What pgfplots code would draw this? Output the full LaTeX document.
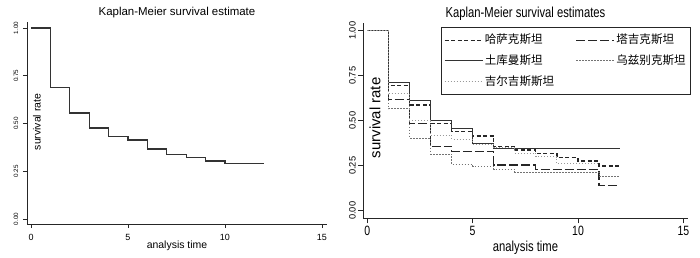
\documentclass[border=0pt]{standalone}
\usepackage{fontspec}
\setmainfont{Liberation Sans}
\newfontfamily\rfont[FakeStretch=0.78]{Liberation Sans}
\newfontfamily\cjk{Noto Sans CJK SC}
\usepackage{pgfplots}
\pgfplotsset{compat=1.18}
\pgfplotsset{every axis title shift=0pt}
\begin{document}
\begin{tikzpicture}
\path[use as bounding box] (0,0) rectangle (700bp,258bp);
% ---------------- left panel ----------------
\begin{axis}[
  at={(27bp,34bp)}, anchor=south west,
  scale only axis, width=300bp, height=202bp,
  xmin=-0.206, xmax=15.26, ymin=-0.026, ymax=1.031,
  axis lines*=left,
  axis line style={line width=1bp, black!85},
  tick align=outside, major tick length=4bp,
  tick style={line width=0.8bp, black!85},
  xtick={0,5,10,15}, ytick={0,0.25,0.5,0.75,1},
  /pgf/number format/assume math mode=true,
  yticklabel={\pgfmathprintnumber[fixed,fixed zerofill,precision=2]{\tick}},
  xticklabel style={font=\fontsize{9}{10}\selectfont, anchor=north, inner sep=0pt, yshift=-6bp},
  yticklabel style={font=\fontsize{6.3}{7}\selectfont, xshift=-4.5bp, rotate=90, anchor=south, inner sep=0pt},
  title={Kaplan-Meier survival estimate},
  title style={font=\fontsize{11.5}{13}\selectfont, at={(axis description cs:0.5,1.045)}, anchor=center, inner sep=0pt},
  xlabel={analysis time},
  xlabel style={font=\fontsize{10.5}{12}\selectfont, at={(axis description cs:0.5,-0.109)}, anchor=center, inner sep=0pt},
  ylabel={survival rate},
  ylabel style={font=\fontsize{10.5}{12}\selectfont, at={(axis description cs:0.033,0.505)}, anchor=center, rotate=0, inner sep=0pt},
  clip=false,
]
\addplot[const plot, line width=1.2bp, black!80] coordinates {
 (0,1) (1,0.689) (2,0.555) (3,0.476) (4,0.433) (5,0.414) (6,0.366)
 (7,0.339) (8,0.323) (9,0.304) (10,0.29) (12,0.29)};
\end{axis}
% ---------------- right panel ----------------
\begin{axis}[
  at={(363bp,39.7bp)}, anchor=south west,
  scale only axis, width=325bp, height=195.3bp,
  xmin=-0.204, xmax=15.22, ymin=-0.042, ymax=1.043,
  axis lines*=left,
  axis line style={line width=1bp, black!85},
  tick align=outside, major tick length=5bp,
  tick style={line width=0.8bp, black!85},
  xtick={0,5,10,15}, ytick={0,0.25,0.5,0.75,1},
  /pgf/number format/assume math mode=true,
  yticklabel={\pgfmathprintnumber[fixed,fixed zerofill,precision=2]{\tick}},
  xticklabel style={font=\rfont\fontsize{13.5}{15}\selectfont, anchor=north, inner sep=0pt, yshift=-3bp},
  yticklabel style={font=\fontsize{9.3}{11}\selectfont, xshift=-2bp, rotate=90, anchor=south, inner sep=0pt},
  title={Kaplan-Meier survival estimates},
  title style={font=\rfont\fontsize{14.5}{16}\selectfont, at={(axis description cs:0.5,1.046)}, anchor=center, inner sep=0pt},
  xlabel={analysis time},
  xlabel style={font=\rfont\fontsize{14.5}{16}\selectfont, at={(axis description cs:0.5,-0.150)}, anchor=center, inner sep=0pt},
  ylabel={survival rate},
  ylabel style={font=\fontsize{15}{17}\selectfont, at={(axis description cs:0.037,0.514)}, anchor=center, rotate=0, inner sep=0pt},
  clip=false,
  legend columns=2,
  legend cell align=left,
  legend image code/.code={\draw[#1] (0bp,0bp) -- (38bp,0bp);},
  legend style={at={(0.239,0.981)}, anchor=north west, draw=black!85, line width=0.9bp,
     font=\cjk\fontsize{11.6}{13}\selectfont, inner xsep=3bp, inner ysep=5bp,
     nodes={inner sep=1.5bp, text height=10bp, text depth=3bp},
     row sep=4.8bp,
     /tikz/every even column/.append style={column sep=20bp}},
]
\addplot[const plot, line width=1.2bp, black!85, dash pattern=on 4bp off 2.5bp] coordinates {
 (0,1) (1,0.696) (2,0.587) (3,0.485) (4,0.439) (5,0.415) (6,0.356)
 (7,0.337) (8,0.317) (9,0.294) (10,0.276) (11,0.248) (12,0.248)};
\addlegendentry{哈萨克斯坦}
\addplot[const plot, line width=1.2bp, black!85, dash pattern=on 9bp off 3bp] coordinates {
 (0,1) (1,0.619) (2,0.483) (3,0.359) (4,0.331) (6,0.254) (8,0.23) (11,0.139) (12,0.139)};
\addlegendentry{塔吉克斯坦}
\addplot[const plot, line width=1bp, black!80] coordinates {
 (0,1) (1,0.711) (2,0.615) (3,0.504) (4,0.456) (5,0.376) (6,0.346) (12,0.346)};
\addlegendentry{土库曼斯坦}
\addplot[const plot, line width=1bp, black!55, dash pattern=on 1.5bp off 1.5bp] coordinates {
 (0,1) (1,0.567) (2,0.404) (3,0.315) (4,0.257) (5,0.248) (6,0.23) (7,0.215) (11,0.189) (12,0.189)};
\addlegendentry{乌兹别克斯坦}
\addplot[const plot, line width=0.9bp, black!40, dash pattern=on 1bp off 2bp] coordinates {
 (0,1) (1,0.652) (2,0.5) (3,0.419) (4,0.396) (5,0.37) (6,0.35) (7,0.32) (8,0.3) (9,0.262) (11,0.262)};
\addlegendentry{吉尔吉斯斯坦}
\end{axis}
\end{tikzpicture}
\end{document}
